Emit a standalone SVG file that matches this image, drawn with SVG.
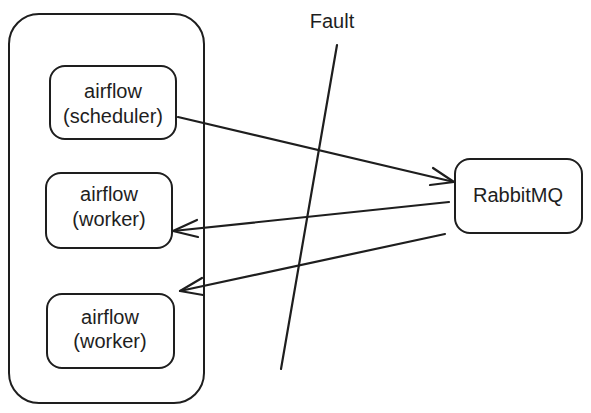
<svg xmlns="http://www.w3.org/2000/svg" width="591" height="413" viewBox="0 0 591 413">
<style>
.box{fill:none;stroke:#1e1e1e;stroke-width:2;stroke-linecap:round;stroke-linejoin:round}
.ln{fill:none;stroke:#1e1e1e;stroke-width:2.2;stroke-linecap:round;stroke-linejoin:round}
.t{font-family:"Liberation Sans",Arial,sans-serif;font-size:20px;fill:#1e1e1e;text-anchor:middle}
</style>
<rect width="591" height="413" fill="#ffffff"/>
<g id="container"><rect class="box" x="9" y="14" width="195" height="389" rx="30"/></g>
<g id="scheduler">
<rect class="box" x="50" y="66" width="126" height="73" rx="15"/>
<text class="t" x="113" y="98">airflow</text>
<text class="t" x="113" y="123">(scheduler)</text>
</g>
<g id="worker1">
<rect class="box" x="46" y="173" width="126" height="75" rx="15"/>
<text class="t" x="109" y="201">airflow</text>
<text class="t" x="109" y="226">(worker)</text>
</g>
<g id="worker2">
<rect class="box" x="47" y="294" width="127" height="74" rx="15"/>
<text class="t" x="110" y="324">airflow</text>
<text class="t" x="110" y="348">(worker)</text>
</g>
<g id="rabbitmq">
<rect class="box" x="455" y="159" width="127" height="74" rx="15"/>
<text class="t" x="518" y="202">RabbitMQ</text>
</g>
<g id="fault">
<text class="t" x="332" y="28" style="font-size:20px">Fault</text>
<path class="ln" d="M337 45 L281 369"/>
</g>
<g id="connectors">
<path class="ln" d="M178 117 L454 182"/>
<path class="ln" d="M433 168 L454 182 L430 185"/>
<path class="ln" d="M449 202 L173 231"/>
<path class="ln" d="M197 220 L173 231 L198 237"/>
<path class="ln" d="M445 234 L180 291"/>
<path class="ln" d="M202 278 L180 291 L203 295"/>
</g>
</svg>
